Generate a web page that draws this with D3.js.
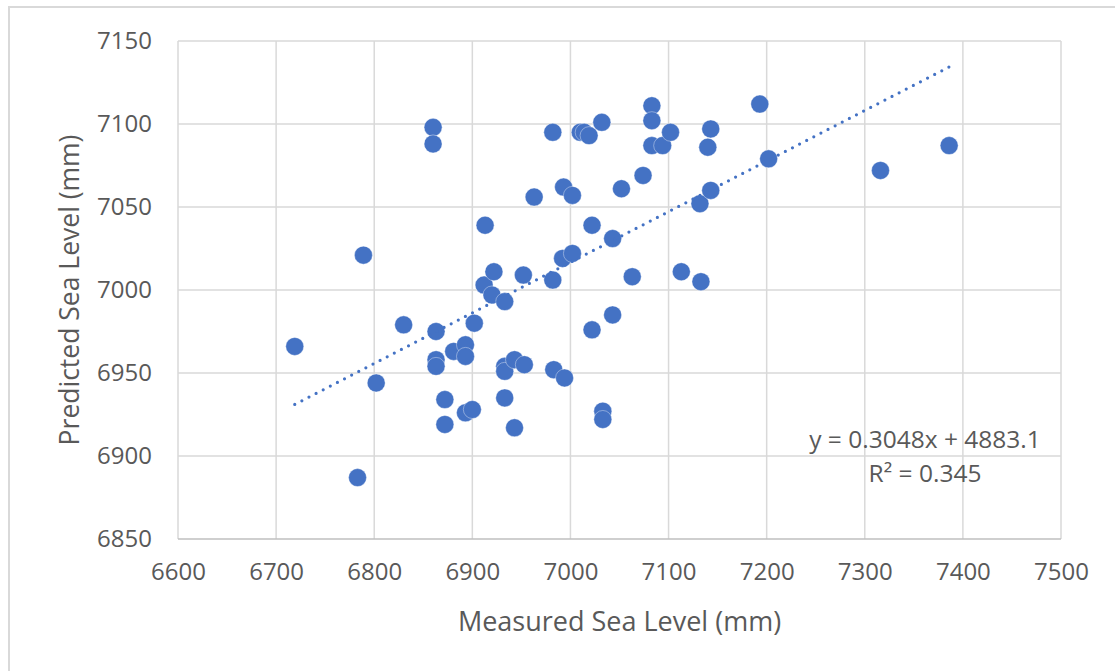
<!DOCTYPE html>
<html>
<head>
<meta charset="utf-8">
<script src="https://cdn.jsdelivr.net/npm/d3@7"></script>
<style>
  body { margin: 0; background: #fff; }
  text { font-family: "Open Sans", sans-serif; fill: #595959; }
</style>
</head>
<body>
<script>
const width = 1115;
const height = 671;
const margin = {top: 41, left: 178, bottom: 132, right: 54};

// measured sea level (x) and predicted sea level (y), mm
const measured = [
  6719, 6789, 6783, 6802, 6830, 6860, 6860, 6863, 6863, 6863,
  6872, 6872, 6881, 6893, 6893, 6893, 6900, 6902, 6912, 6913,
  6920, 6922, 6933, 6933, 6933, 6933, 6943, 6943, 6952, 6953,
  6963, 6982, 6982, 6983, 6992, 6993, 6994, 7002, 7002, 7010,
  7014, 7019, 7022, 7022, 7032, 7033, 7033, 7043, 7043, 7052,
  7063, 7074, 7083, 7083, 7083, 7094, 7102, 7113, 7132, 7133,
  7140, 7143, 7143, 7193, 7202, 7316, 7386
];
const predicted = [
  6966, 7021, 6887, 6944, 6979, 7098, 7088, 6975, 6958, 6954,
  6934, 6919, 6963, 6967, 6960, 6926, 6928, 6980, 7003, 7039,
  6997, 7011, 6993, 6935, 6954, 6951, 6958, 6917, 7009, 6955,
  7056, 7095, 7006, 6952, 7019, 7062, 6947, 7022, 7057, 7095,
  7095, 7093, 7039, 6976, 7101, 6927, 6922, 7031, 6985, 7061,
  7008, 7069, 7111, 7102, 7087, 7087, 7095, 7011, 7052, 7005,
  7086, 7097, 7060, 7112, 7079, 7072, 7087
];
const xTicks = [6600, 6700, 6800, 6900, 7000, 7100, 7200, 7300, 7400, 7500];
const yTicks = [6850, 6900, 6950, 7000, 7050, 7100, 7150];
const slope = 0.3048;
const intercept = 4883.1;
const equation = 'y = 0.3048x + 4883.1';
const rSquared = 'R² = 0.345';

const data = measured.map((m, i) => ({x: m, y: predicted[i]}));

const x = d3.scaleLinear()
  .domain([6600, 7500])
  .range([margin.left, width - margin.right]);

const y = d3.scaleLinear()
  .domain([6850, 7150])
  .range([height - margin.bottom, margin.top]);

const svg = d3.select('body').append('svg')
  .attr('width', width).attr('height', height);

// chart area border
svg.append('rect')
  .attr('x', 9).attr('y', 7)
  .attr('width', width + 20).attr('height', height + 20)
  .attr('fill', 'none').attr('stroke', '#d9d9d9').attr('stroke-width', 2);

// gridlines
svg.append('g')
  .selectAll('line').data(xTicks).enter().append('line')
  .attr('x1', d => x(d)).attr('x2', d => x(d))
  .attr('y1', y(7150)).attr('y2', y(6850))
  .attr('stroke', '#d9d9d9').attr('stroke-width', 1.5);
svg.append('g')
  .selectAll('line').data(yTicks).enter().append('line')
  .attr('x1', x(6600)).attr('x2', x(7500))
  .attr('y1', d => y(d)).attr('y2', d => y(d))
  .attr('stroke', d => d === 6850 ? '#bfbfbf' : '#d9d9d9')
  .attr('stroke-width', 1.5);

// axes (labels only)
const xAxis = g => g
  .attr('transform', `translate(0, ${height - margin.bottom})`)
  .call(d3.axisBottom(x).tickValues(xTicks).tickSize(0).tickPadding(24).tickFormat(d3.format('d')))
  .call(g => g.select('.domain').remove());
const yAxis = g => g
  .attr('transform', `translate(${margin.left}, 0)`)
  .call(d3.axisLeft(y).tickValues(yTicks).tickSize(0).tickPadding(26).tickFormat(d3.format('d')))
  .call(g => g.select('.domain').remove());

svg.append('g').call(xAxis);
svg.append('g').call(yAxis);
svg.selectAll('.tick text')
  .attr('font-size', 24)
  .attr('font-family', '"Open Sans", sans-serif')
  .attr('fill', '#595959');

// axis titles
svg.append('text')
  .attr('x', (x(6600) + x(7500)) / 2).attr('y', 631)
  .attr('text-anchor', 'middle').attr('font-size', 27)
  .text('Measured Sea Level (mm)');
svg.append('text')
  .attr('transform', `translate(79, ${(y(6850) + y(7150)) / 2}) rotate(-90)`)
  .attr('text-anchor', 'middle').attr('font-size', 26.5)
  .text('Predicted Sea Level (mm)');

// points
svg.append('g')
  .selectAll('circle').data(data).enter().append('circle')
  .attr('cx', d => x(d.x))
  .attr('cy', d => y(d.y))
  .attr('r', 9)
  .attr('fill', '#4472c4')
  .attr('stroke', '#fff').attr('stroke-opacity', 0.5).attr('stroke-width', 0.75);

// linear trendline
const xExt = d3.extent(measured);
svg.append('line')
  .attr('x1', x(xExt[0])).attr('y1', y(slope * xExt[0] + intercept))
  .attr('x2', x(xExt[1])).attr('y2', y(slope * xExt[1] + intercept))
  .attr('stroke', '#4472c4').attr('stroke-width', 3.2)
  .attr('stroke-linecap', 'round')
  .attr('stroke-dasharray', '0 8');

// equation label
svg.append('text')
  .attr('x', 925).attr('y', 448)
  .attr('text-anchor', 'middle').attr('font-size', 24.5)
  .text(equation);
svg.append('text')
  .attr('x', 925).attr('y', 482)
  .attr('text-anchor', 'middle').attr('font-size', 24.5)
  .text(rSquared);
</script>
</body>
</html>
